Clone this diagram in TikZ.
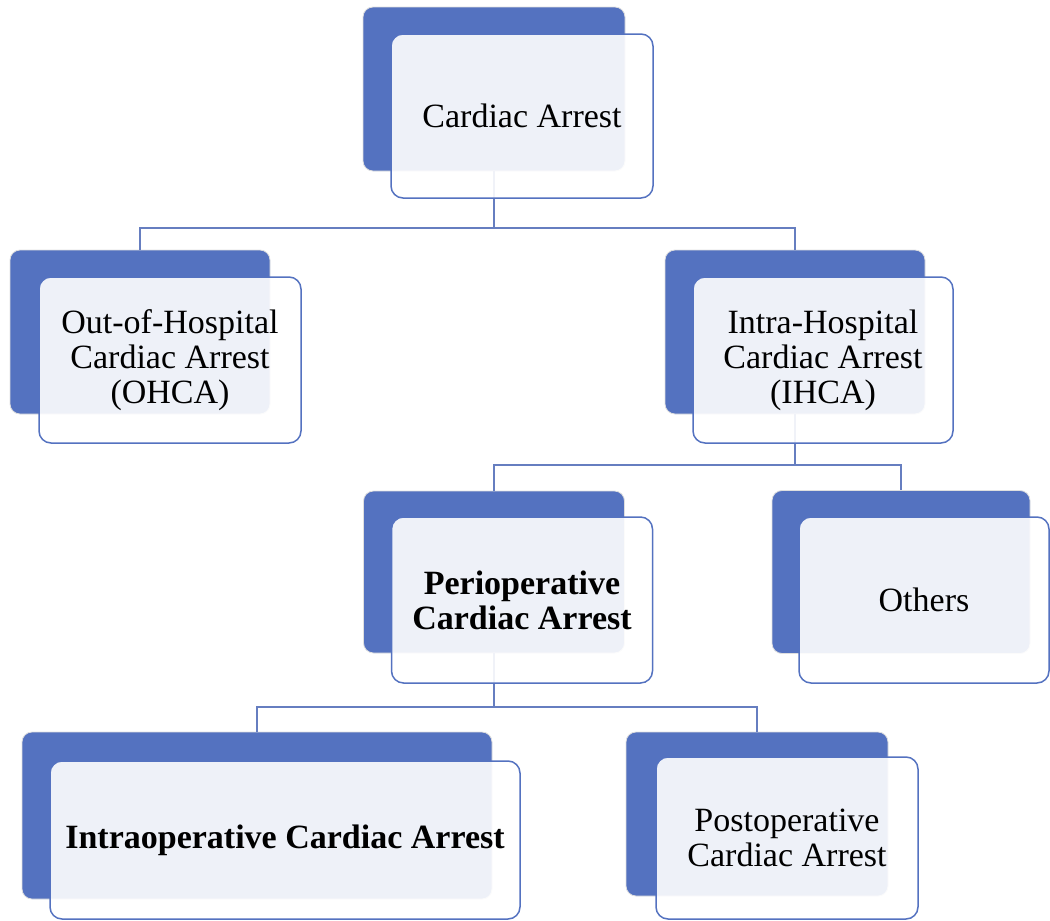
\documentclass[tikz,border=0pt]{standalone}
\usepackage{xcolor}
\usepackage{fontspec}
\setmainfont{Liberation Serif}
\usepackage{tikz}
\usetikzlibrary{positioning}

\definecolor{cablue}{RGB}{84,114,192}
\definecolor{cablink}{RGB}{102,126,192}

\begin{document}
\begin{tikzpicture}[x=1pt,y=-1pt,
  backbox/.style={draw=gray!25,line width=0.8pt,fill=cablue,rounded corners=10pt,inner sep=0pt},
  frontbox/.style={draw=cablue,line width=1.5pt,fill=white,fill opacity=0.9,text opacity=1,rounded corners=12pt,
    align=center,inner sep=0pt,font=\fontsize{34}{35}\selectfont},
  boldbox/.style={frontbox,font=\fontsize{34}{35}\selectfont\bfseries},
  link/.style={draw=cablink,line width=2pt}]
\useasboundingbox (0,0) rectangle (1050,921);
% back boxes
\node[backbox,minimum width=262pt,minimum height=164pt] (caB) at (494,89) {};
\node[backbox,minimum width=260pt,minimum height=164pt] (ohcaB) at (140,332) {};
\node[backbox,minimum width=260pt,minimum height=164pt] (ihcaB) at (795,332) {};
\node[backbox,minimum width=261pt,minimum height=162pt] (periB) at (494,572) {};
\node[backbox,minimum width=258pt,minimum height=163pt] (othB) at (901,572) {};
\node[backbox,minimum width=470pt,minimum height=167pt] (intraB) at (257,815.5) {};
\node[backbox,minimum width=262pt,minimum height=164pt] (postB) at (757,814) {};
% connectors
\coordinate (j1) at (494,228);
\coordinate (j2) at (795,465);
\coordinate (j3) at (494,707);
\draw[link] (caB.south) -- (j1) -| (ohcaB.north);
\draw[link] (j1) -| (ihcaB.north);
\draw[link] (ihcaB.south) -- (j2) -| (periB.north);
\draw[link] (j2) -| (othB.north);
\draw[link] (periB.south) -- (j3) -| (intraB.north);
\draw[link] (j3) -| (postB.north);
% front boxes
\node[frontbox,minimum width=262pt,minimum height=164pt] (ca) at (522,116) {Cardiac Arrest};
\node[frontbox,minimum width=262pt,minimum height=166pt] (ohca) at (170,360) {Out-of-Hospital\\Cardiac Arrest\\(OHCA)};
\node[frontbox,minimum width=260pt,minimum height=166pt] (ihca) at (823,360) {Intra-Hospital\\Cardiac Arrest\\(IHCA)};
\node[boldbox,minimum width=261pt,minimum height=166pt] (peri) at (522,600) {Perioperative\\Cardiac Arrest};
\node[frontbox,minimum width=250pt,minimum height=166pt] (oth) at (924,600) {Others};
\node[boldbox,minimum width=470pt,minimum height=158pt] (intra) at (285,840) {Intraoperative Cardiac Arrest};
\node[frontbox,minimum width=262pt,minimum height=162pt] (post) at (787,838) {Postoperative\\Cardiac Arrest};
\end{tikzpicture}
\end{document}
